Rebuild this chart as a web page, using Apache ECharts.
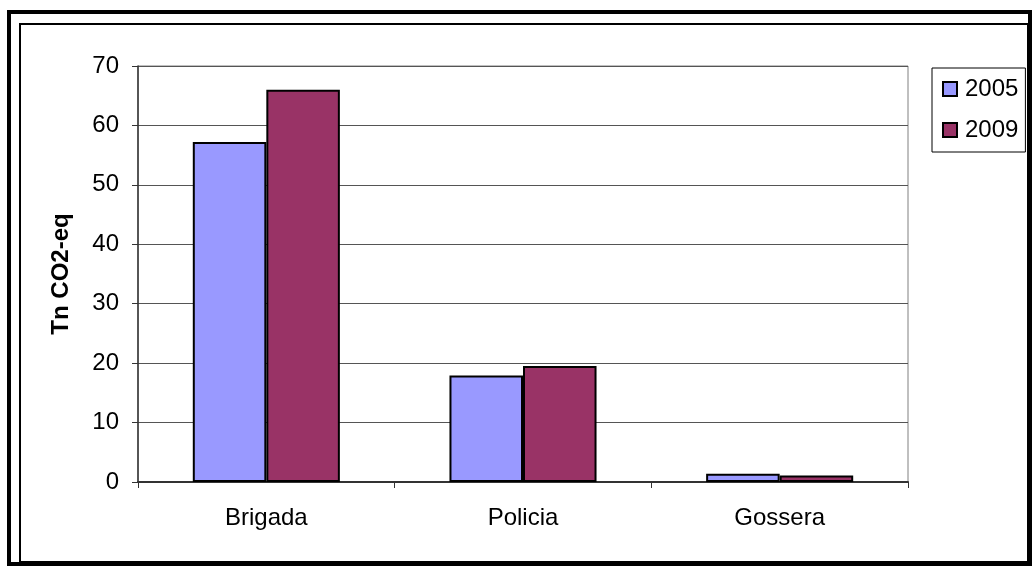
<!DOCTYPE html>
<html>
<head>
<meta charset="utf-8">
<script src="https://cdn.jsdelivr.net/npm/echarts@6/dist/echarts.min.js"></script>
<style>
  html, body { margin: 0; padding: 0; background: #fff; }
  #chart { width: 1034px; height: 566px; }
</style>
</head>
<body>
<div id="chart"></div>
<script>
const categories = ['Brigada', 'Policia', 'Gossera']
const values2005 = [57.2, 17.9, 1.4]
const values2009 = [66.0, 19.5, 1.1]
const seriesNames = ['2005', '2009']

const chart = echarts.init(document.getElementById('chart'))
const font = 'Liberation Sans, Arial, sans-serif'

const option = {
  animation: false,
  backgroundColor: '#fff',
  textStyle: { fontFamily: font },
  grid: {
    left: 138, right: 126, top: 66, bottom: 84,
    show: true, borderColor: '#808080', borderWidth: 1
  },
  legend: {
    orient: 'vertical',
    left: 932, top: 68,
    padding: [8, 7, 9, 10],
    itemGap: 15,
    itemWidth: 14, itemHeight: 14,
    icon: 'rect',
    borderColor: '#000', borderWidth: 1,
    textStyle: { fontSize: 24, color: '#000', lineHeight: 26, padding: [0, 0, 0, 3], fontFamily: font },
    data: seriesNames
  },
  xAxis: {
    type: 'category',
    data: categories,
    axisLine: { lineStyle: { color: '#333', width: 2 } },
    axisTick: { show: true, length: 6, lineStyle: { color: '#333' } },
    axisLabel: { fontSize: 24, color: '#000', margin: 24, fontFamily: font }
  },
  yAxis: {
    type: 'value',
    min: 0, max: 70, interval: 10,
    name: 'Tn CO2-eq',
    nameLocation: 'middle',
    nameRotate: 90,
    nameGap: 65,
    nameTextStyle: { fontSize: 24, fontWeight: 'bold', color: '#000', fontFamily: font },
    axisLine: { show: true, lineStyle: { color: '#333', width: 1.5 } },
    axisTick: { show: true, length: 6, lineStyle: { color: '#333' } },
    axisLabel: { fontSize: 24, color: '#000', margin: 19, fontFamily: font },
    splitLine: { lineStyle: { color: '#555', width: 1 } }
  },
  series: [
    {
      name: seriesNames[0], type: 'bar', data: values2005,
      barGap: '0%', barCategoryGap: '42.7%',
      itemStyle: { color: '#9999FF', borderColor: '#000', borderWidth: 2 }
    },
    {
      name: seriesNames[1], type: 'bar', data: values2009,
      barGap: '0%', barCategoryGap: '42.7%',
      itemStyle: { color: '#993366', borderColor: '#000', borderWidth: 2 }
    }
  ],
  graphic: [
    {
      type: 'rect', silent: true, z: 100,
      shape: { x: 9, y: 12, width: 1021, height: 552 },
      style: { fill: null, stroke: '#000', lineWidth: 4 }
    },
    {
      type: 'rect', silent: true, z: 100,
      shape: { x: 20, y: 24, width: 1008, height: 538 },
      style: { fill: null, stroke: '#000', lineWidth: 2 }
    }
  ]
}

chart.setOption(option)
</script>
</body>
</html>
